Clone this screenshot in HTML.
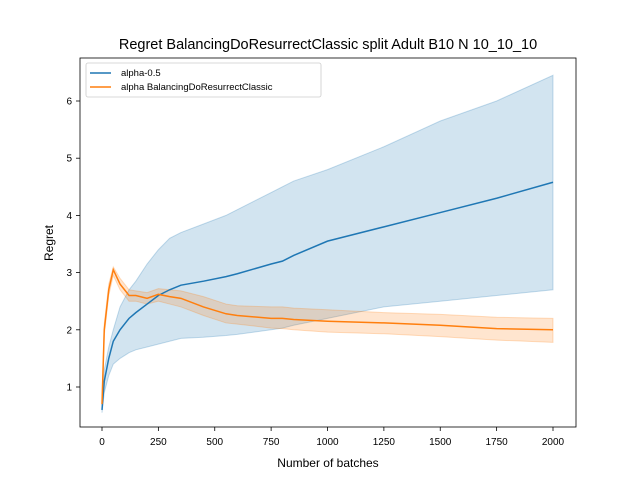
<!DOCTYPE html>
<html><head><meta charset="utf-8"><style>
body{margin:0;background:#fff;}
svg{font-family:"Liberation Sans","DejaVu Sans",sans-serif;}
</style></head><body>
<svg id="chart" width="640" height="480">
<rect width="640" height="480" fill="#fff"/>
<text x="328" y="49" font-size="14.5" text-anchor="middle">Regret BalancingDoResurrectClassic split Adult B10 N 10_10_10</text>
<g id="bands"></g><g id="lines"></g>
<rect x="80" y="58" width="496" height="369" fill="none" stroke="#000" stroke-width="0.8"/>
<g id="xticks"></g><g id="yticks"></g>
<text x="328" y="467" font-size="12" text-anchor="middle">Number of batches</text>
<text transform="translate(53,243) rotate(-90)" font-size="12" text-anchor="middle">Regret</text>
<g>
<rect x="86" y="63" width="235" height="34" rx="2" fill="#fff" fill-opacity="0.8" stroke="#ccc" stroke-width="0.8"/>
<line x1="90" y1="73" x2="111" y2="73" stroke="#1f77b4" stroke-width="1.5"/>
<text x="121" y="76" font-size="9.5">alpha-0.5</text>
<line x1="90" y1="87" x2="111" y2="87" stroke="#ff7f0e" stroke-width="1.5"/>
<text x="121" y="90" font-size="9.5">alpha BalancingDoResurrectClassic</text>
</g>
</svg>
<script>
const xs=[0,10,30,50,80,120,150,200,250,300,350,450,550,600,750,800,850,1000,1250,1500,1750,2000];
const blueMean=[0.6,1.1,1.5,1.8,2.0,2.2,2.3,2.45,2.6,2.7,2.78,2.85,2.93,2.98,3.15,3.2,3.3,3.55,3.8,4.05,4.3,4.58];
const blueUp=[0.7,1.3,1.7,2.0,2.4,2.7,2.85,3.15,3.4,3.6,3.7,3.85,4.0,4.1,4.4,4.5,4.6,4.8,5.2,5.65,6.0,6.45];
const blueLo=[0.55,0.9,1.2,1.4,1.5,1.6,1.65,1.7,1.75,1.8,1.85,1.87,1.9,1.92,2.0,2.03,2.08,2.2,2.4,2.5,2.6,2.7];
const orMean=[0.7,2.0,2.7,3.05,2.8,2.6,2.6,2.55,2.62,2.58,2.55,2.4,2.28,2.25,2.2,2.2,2.18,2.15,2.12,2.08,2.02,2.0];
const orUp=[0.75,2.1,2.8,3.1,2.9,2.7,2.68,2.65,2.72,2.7,2.68,2.58,2.45,2.42,2.4,2.4,2.38,2.35,2.3,2.27,2.22,2.2];
const orLo=[0.62,1.9,2.6,2.95,2.7,2.5,2.5,2.45,2.5,2.45,2.4,2.25,2.12,2.1,2.03,2.02,2.0,1.96,1.93,1.88,1.82,1.78];
const xTicks=[0,250,500,750,1000,1250,1500,1750,2000];
const yTicks=[1,2,3,4,5,6];
const X=v=>102+v*451/2000, Y=v=>387-(v-1)*57.2;
const NS="http://www.w3.org/2000/svg";
function mk(t,a,p){const e=document.createElementNS(NS,t);for(const k in a)e.setAttribute(k,a[k]);p.appendChild(e);return e;}
const bands=document.getElementById('bands'),lines=document.getElementById('lines');
function band(up,lo,col,name){
 let d=xs.map((x,i)=>(i?'L':'M')+X(x)+','+Y(up[i])).join('')+xs.slice().reverse().map((x,j)=>{const i=xs.length-1-j;return 'L'+X(x)+','+Y(lo[i]);}).join('')+'Z';
 const p=mk('path',{d:d,fill:col,'fill-opacity':0.2,stroke:col,'stroke-opacity':0.25},bands);
 
 
}
function line(m,col,name){
 const p=mk('path',{d:xs.map((x,i)=>(i?'L':'M')+X(x)+','+Y(m[i])).join(''),fill:'none',stroke:col,'stroke-width':1.5},lines);
 
 
}
band(blueUp,blueLo,'#1f77b4','alpha-band');
band(orUp,orLo,'#ff7f0e','balancing-band');
line(blueMean,'#1f77b4','alpha-line');
line(orMean,'#ff7f0e','balancing-line');
const xt=document.getElementById('xticks'),yt=document.getElementById('yticks');
xTicks.forEach(v=>{
 const l=mk('line',{x1:X(v),x2:X(v),y1:427,y2:431,stroke:'#000','stroke-width':0.8},xt);
 
 
 const t=mk('text',{x:X(v),y:445,'font-size':10,'text-anchor':'middle'},xt);t.textContent=v;
 
 
});
yTicks.forEach(v=>{
 const l=mk('line',{x1:76,x2:80,y1:Y(v),y2:Y(v),stroke:'#000','stroke-width':0.8},yt);
 
 
 const t=mk('text',{x:72,y:Y(v)+3.5,'font-size':10,'text-anchor':'end'},yt);t.textContent=v;
 
 
});
</script>
</body></html>
